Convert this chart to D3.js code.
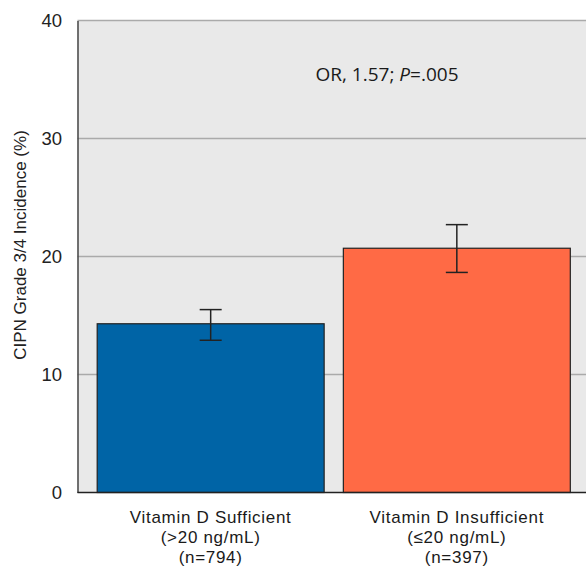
<!DOCTYPE html>
<html><head><meta charset="utf-8">
<script src="https://cdn.jsdelivr.net/npm/d3@7"></script>
<style>body{margin:0;background:#fff}svg{display:block}</style>
</head><body>
<svg id="c" width="586" height="569"></svg>
<script>
const categories = ["Vitamin D Sufficient", "Vitamin D Insufficient"];
const subLabels = [["(>20 ng/mL)", "(n=794)"], ["(≤20 ng/mL)", "(n=397)"]];
const values = [14.3, 20.7];
const errLow = [12.9, 18.65];
const errHigh = [15.5, 22.7];
const colors = ["#0064a6", "#ff6a45"];
const yTicks = [0, 10, 20, 30, 40];
const yLabel = "CIPN Grade 3/4 Incidence (%)";

(function () {
const svg = d3.select("#c");
const mLeft = 77.5, mTop = 20.5, mBottom = 492.5, mRight = 590;
const x = d3.scaleBand().domain(categories).range([mLeft, mRight]).paddingInner(0.078).paddingOuter(0.08);
const y = d3.scaleLinear().domain([0, 40]).range([mBottom, mTop]);

svg.append("rect").attr("x", mLeft).attr("y", mTop).attr("width", 586 - mLeft).attr("height", mBottom - mTop).attr("fill", "#e9e9e9");

// gridlines
svg.append("g").selectAll("line").data(yTicks.filter(d => d > 0)).join("line")
  .attr("x1", mLeft).attr("x2", 586).attr("y1", d => y(d)).attr("y2", d => y(d))
  .attr("stroke", "#aaaaaa").attr("stroke-width", 1.5);

// y axis
const ya = svg.append("g").attr("transform", `translate(${mLeft},0)`)
  .call(d3.axisLeft(y).tickValues(yTicks).tickSize(0).tickPadding(15.5));
ya.select(".domain").attr("stroke", "#444").attr("stroke-width", 1.5);
ya.selectAll("text").attr("font-family", "Liberation Sans, Arial, sans-serif").attr("font-size", 18.5).attr("fill", "#222");

// bars
svg.append("g").selectAll("rect").data(categories).join("rect")
  .attr("x", d => x(d)).attr("width", x.bandwidth())
  .attr("y", (d, i) => y(values[i])).attr("height", (d, i) => mBottom - y(values[i]))
  .attr("fill", (d, i) => colors[i]).attr("stroke", "#222").attr("stroke-width", 1.2);

// bottom axis line
svg.append("line").attr("x1", mLeft).attr("x2", 586).attr("y1", mBottom).attr("y2", mBottom)
  .attr("stroke", "#222").attr("stroke-width", 1.5);

// error bars
const eb = svg.append("g").attr("stroke", "#222").attr("stroke-width", 1.5);
categories.forEach((c, i) => {
  const cx = x(c) + x.bandwidth() / 2;
  eb.append("line").attr("x1", cx).attr("x2", cx).attr("y1", y(errLow[i])).attr("y2", y(errHigh[i]));
  eb.append("line").attr("x1", cx - 11).attr("x2", cx + 11).attr("y1", y(errLow[i])).attr("y2", y(errLow[i]));
  eb.append("line").attr("x1", cx - 11).attr("x2", cx + 11).attr("y1", y(errHigh[i])).attr("y2", y(errHigh[i]));
});

// category labels
const catFont = "'Liberation Sans', Arial, sans-serif";
categories.forEach((c, i) => {
  const cx = x(c) + x.bandwidth() / 2;
  const t = svg.append("text").attr("text-anchor", "middle").attr("font-family", catFont)
    .attr("font-size", 17).attr("letter-spacing", "0.7px").attr("fill", "#1a1a1a");
  [c, ...subLabels[i]].forEach((line, k) => {
    t.append("tspan").attr("x", cx).attr("y", 523 + k * 20).text(line);
  });
});

// y label
svg.append("text").attr("transform", `translate(25.5,245) rotate(-90)`).attr("text-anchor", "middle")
  .attr("font-family", "Liberation Sans, Arial, sans-serif").attr("font-size", 17).attr("fill", "#222").text(yLabel);

// annotation
const ann = svg.append("text").attr("x", 387).attr("y", 81).attr("text-anchor", "middle")
  .attr("font-family", "'Open Sans', sans-serif").attr("font-size", 19).attr("fill", "#1a1a1a");
ann.append("tspan").text("OR, 1.57; ");
ann.append("tspan").attr("font-style", "italic").text("P");
ann.append("tspan").text("=.005");
})();
</script>
</body></html>
